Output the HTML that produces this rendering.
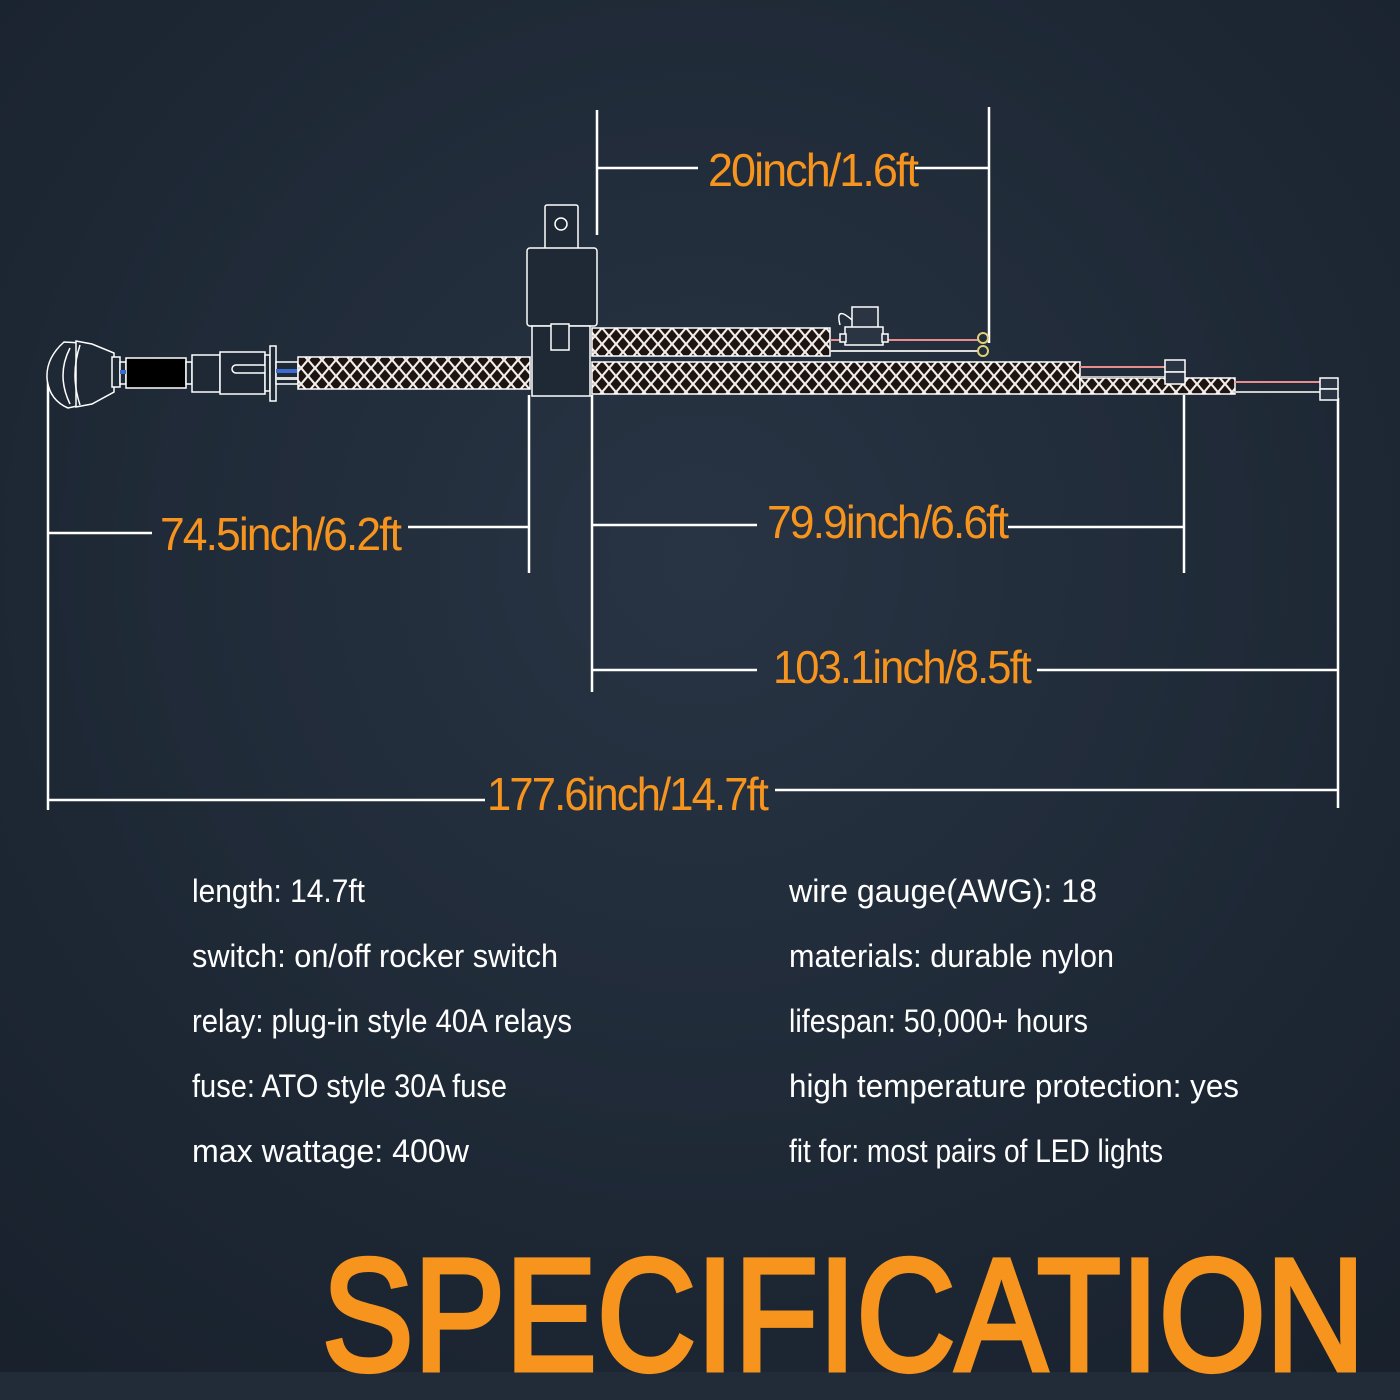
<!DOCTYPE html>
<html><head><meta charset="utf-8"><style>html,body{margin:0;padding:0;background:#1f2936}svg{display:block}</style></head>
<body>
<svg width="1400" height="1400" viewBox="0 0 1400 1400" xmlns="http://www.w3.org/2000/svg" font-family="Liberation Sans, sans-serif">
<defs>
<radialGradient id="bg" cx="50%" cy="40%" r="75%">
<stop offset="0" stop-color="#283444"/><stop offset="1" stop-color="#18212c"/>
</radialGradient>
<pattern id="braid" width="14" height="16" patternUnits="userSpaceOnUse">
<rect width="14" height="16" fill="#f2eeea"/>
<path d="M7 1.5 L12.5 8 L7 14.5 L1.5 8 Z" fill="#1e1412"/>
<path d="M0 -6.5 L5.5 0 L0 6.5 Z M14 -6.5 L8.5 0 L14 6.5 Z M0 9.5 L5.5 16 L0 22.5 Z M14 9.5 L8.5 16 L14 22.5 Z" fill="#1e1412"/>
</pattern>
</defs>
<rect width="1400" height="1400" fill="url(#bg)"/>
<rect y="1372" width="1400" height="28" fill="#222c38"/>

<g stroke="#fff" stroke-width="2.5" fill="none">
<line x1="597" y1="110" x2="597" y2="235"/><line x1="989" y1="107" x2="989" y2="343"/>
<line x1="597" y1="168" x2="698" y2="168"/><line x1="915" y1="168" x2="989" y2="168"/>
<line x1="48" y1="375" x2="48" y2="810"/><line x1="529" y1="395" x2="529" y2="573"/>
<line x1="48" y1="533" x2="152" y2="533"/><line x1="408" y1="527" x2="529" y2="527"/>
<line x1="592" y1="395" x2="592" y2="692"/><line x1="1184" y1="395" x2="1184" y2="573"/>
<line x1="592" y1="525" x2="757" y2="525"/><line x1="1008" y1="527" x2="1184" y2="527"/>
<line x1="592" y1="670" x2="757" y2="670"/><line x1="1037" y1="670" x2="1338" y2="670"/>
<line x1="1338" y1="398" x2="1338" y2="808"/>
<line x1="48" y1="800" x2="485" y2="800"/><line x1="775" y1="790" x2="1338" y2="790"/>
</g>

<!-- switch -->
<g stroke="#fff" stroke-width="1.5" fill="#1f2936">
<path d="M64 342 Q46 358 47 378 Q49 400 68 408 L82 405 L82 343 Z"/>
<path d="M76 341 L92 344 L114 353 L114 392 L92 404 L76 407 Z"/>
<path d="M70 348 Q56 375 70 404" fill="none"/>
<path d="M80 345 Q70 375 80 405" fill="none"/>
<rect x="112" y="357" width="8" height="30"/>
<rect x="120" y="362" width="6" height="22"/>
<rect x="126" y="358" width="60" height="30" fill="#000"/>
<rect x="186" y="362" width="6" height="22"/>
<rect x="192" y="355" width="28" height="37"/>
<rect x="220" y="352" width="45" height="42"/>
<rect x="232" y="365" width="35" height="8" rx="4"/>
<rect x="265" y="355" width="5" height="36"/>
<rect x="270" y="346" width="6" height="55"/>
<rect x="276" y="362" width="22" height="22"/>
</g>
<rect x="120" y="370" width="6" height="4" fill="#3c6bd1"/>
<rect x="276" y="369" width="22" height="4" fill="#3c6bd1"/>
<rect x="276" y="377" width="22" height="3" fill="#ddd"/>

<rect x="298" y="357" width="232" height="32" fill="url(#braid)" stroke="#fff" stroke-width="1.5"/>
<rect x="592" y="328" width="238" height="28" fill="url(#braid)" stroke="#fff" stroke-width="1.5"/>
<rect x="592" y="362" width="488" height="32" fill="url(#braid)" stroke="#fff" stroke-width="1.5"/>
<rect x="1080" y="378" width="155" height="16" fill="url(#braid)" stroke="#fff" stroke-width="1.5"/>

<g stroke="#fff" stroke-width="1.5" fill="#1f2936">
<rect x="545" y="205" width="33" height="45" rx="2"/>
<circle cx="561" cy="224" r="6"/>
<rect x="527" y="248" width="70" height="78" rx="3"/>
<rect x="532" y="326" width="58" height="70"/>
<rect x="551" y="324" width="18" height="26"/>
</g>

<g stroke-width="2" fill="none">
<line x1="830" y1="340" x2="978" y2="340" stroke="#e88c8c"/>
<line x1="830" y1="351" x2="978" y2="351" stroke="#ddd"/>
<line x1="1080" y1="367" x2="1165" y2="367" stroke="#e88c8c"/>
<line x1="1080" y1="377" x2="1165" y2="377" stroke="#bbb"/>
<line x1="1235" y1="382" x2="1320" y2="382" stroke="#e88c8c"/>
<line x1="1235" y1="392" x2="1320" y2="392" stroke="#ccc"/>
</g>
<g stroke="#fff" stroke-width="1.5" fill="#2a3442">
<rect x="852" y="307" width="26" height="22"/>
<rect x="845" y="327" width="38" height="18"/>
<rect x="840" y="334" width="6" height="8"/>
<rect x="882" y="334" width="6" height="8"/>
<path d="M852 320 Q835 305 840 325" fill="none"/>
<rect x="1165" y="360" width="20" height="12"/>
<rect x="1165" y="372" width="20" height="12"/>
<rect x="1320" y="378" width="18" height="11"/>
<rect x="1320" y="389" width="18" height="11"/>
</g>
<circle cx="983" cy="338" r="5" fill="none" stroke="#e0cf7a" stroke-width="2"/>
<circle cx="983" cy="351" r="5" fill="none" stroke="#e0cf7a" stroke-width="2"/>

<g fill="#f7941d" font-size="46" letter-spacing="-2">
<text x="708" y="186" textLength="209" lengthAdjust="spacingAndGlyphs">20inch/1.6ft</text>
<text x="160" y="550" textLength="240" lengthAdjust="spacingAndGlyphs">74.5inch/6.2ft</text>
<text x="767" y="538" textLength="240" lengthAdjust="spacingAndGlyphs">79.9inch/6.6ft</text>
<text x="773" y="683" textLength="257" lengthAdjust="spacingAndGlyphs">103.1inch/8.5ft</text>
<text x="487" y="810" textLength="280" lengthAdjust="spacingAndGlyphs">177.6inch/14.7ft</text>
</g>

<g fill="#fff" font-size="32">
<text x="192" y="902" textLength="173" lengthAdjust="spacingAndGlyphs">length: 14.7ft</text>
<text x="192" y="967" textLength="366" lengthAdjust="spacingAndGlyphs">switch: on/off rocker switch</text>
<text x="192" y="1032" textLength="380" lengthAdjust="spacingAndGlyphs">relay: plug-in style 40A relays</text>
<text x="192" y="1097" textLength="315" lengthAdjust="spacingAndGlyphs">fuse: ATO style 30A fuse</text>
<text x="192" y="1162" textLength="277" lengthAdjust="spacingAndGlyphs">max wattage: 400w</text>
<text x="789" y="902" textLength="308" lengthAdjust="spacingAndGlyphs">wire gauge(AWG): 18</text>
<text x="789" y="967" textLength="325" lengthAdjust="spacingAndGlyphs">materials: durable nylon</text>
<text x="789" y="1032" textLength="299" lengthAdjust="spacingAndGlyphs">lifespan: 50,000+ hours</text>
<text x="789" y="1097" textLength="450" lengthAdjust="spacingAndGlyphs">high temperature protection: yes</text>
<text x="789" y="1162" textLength="374" lengthAdjust="spacingAndGlyphs">fit for: most pairs of LED lights</text>
</g>

<text x="322" y="1370" fill="#f7941d" stroke="#f7941d" stroke-width="5" font-size="160" textLength="1043" lengthAdjust="spacingAndGlyphs">SPECIFICATION</text>
</svg>
</body></html>
